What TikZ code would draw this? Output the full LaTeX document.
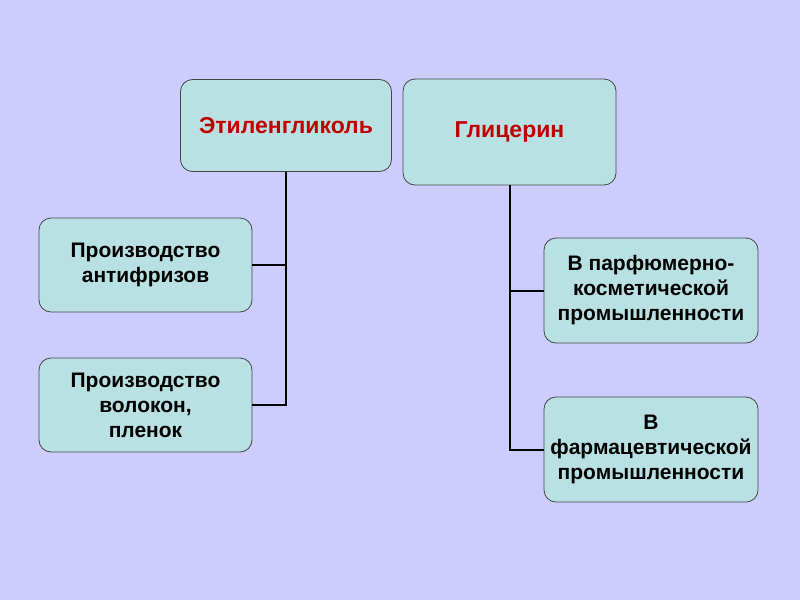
\documentclass[tikz,border=0pt]{standalone}
\usepackage{fontspec}
\setmainfont{Liberation Sans}
\definecolor{bg}{RGB}{204,204,255}
\definecolor{boxfill}{RGB}{185,224,226}
\definecolor{boxline}{RGB}{70,70,70}
\definecolor{titlered}{RGB}{192,0,0}
\tikzset{
  box/.style={draw=boxline, line width=0.8pt, fill=boxfill, rounded corners=12pt,
    align=center, inner sep=2pt, font=\bfseries\fontsize{21}{25}\selectfont},
  titlebox/.style={box, text=titlered, font=\bfseries\fontsize{23}{25}\selectfont},
  conn/.style={draw=black, line width=2pt}
}
\begin{document}
\begin{tikzpicture}[x=1pt,y=-1pt]
\fill[bg] (0,0) rectangle (800,600);
\useasboundingbox (0,0) rectangle (800,600);
\node[titlebox, minimum width=211pt, minimum height=92pt] (e) at (286,125.5) {Этиленгликоль};
\node[titlebox, minimum width=213pt, minimum height=106pt] (g) at (509.5,132) {Глицерин};
\node[box, minimum width=213pt, minimum height=94pt] (a1) at (145.5,265) {Производство\\антифризов};
\node[box, minimum width=213pt, minimum height=94pt] (a2) at (145.5,405) {Производство\\волокон,\\пленок};
\node[box, minimum width=214pt, minimum height=105pt] (p1) at (651,290.5) {В парфюмерно-\\косметической\\промышленности};
\node[box, minimum width=214pt, minimum height=105pt] (p2) at (651,449.5) {В\\фармацевтической\\промышленности};
\draw[conn] (e.south) |- (a1.east);
\draw[conn] (e.south) |- (a2.east);
\draw[conn] (g.south) |- (p1.west);
\draw[conn] (g.south) |- (p2.west);
\end{tikzpicture}
\end{document}
